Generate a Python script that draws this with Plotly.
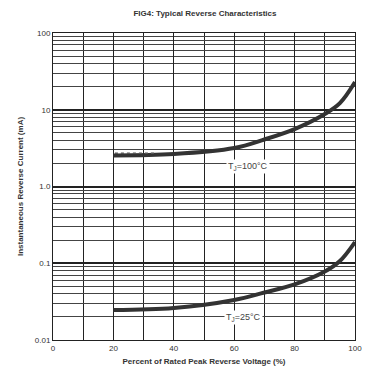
import plotly.graph_objects as go

# Data
voltage_pct = [20, 40, 60, 70, 80, 90, 95, 100]
current_100c = [2.54, 2.65, 3.17, 4.1, 5.6, 8.8, 12.2, 23.0]
current_25c = [0.0246, 0.0261, 0.0332, 0.0415, 0.053, 0.078, 0.107, 0.189]
dotted_x = [20.5, 34]
dotted_y = [2.72, 2.72]

x_tickvals = [0, 20, 40, 60, 80, 100]
x_ticktext = ["0", "20", "40", "60", "80", "100"]
y_tickvals = [0.01, 0.1, 1, 10, 100]
y_ticktext = ["0.01", "0.1", "1.0", "10", "100"]

fig = go.Figure()
fig.add_trace(go.Scatter(x=voltage_pct, y=current_100c, mode="lines",
                         line=dict(color="#333", width=4, shape="spline", smoothing=1.0),
                         showlegend=False))
fig.add_trace(go.Scatter(x=voltage_pct, y=current_25c, mode="lines",
                         line=dict(color="#333", width=4, shape="spline", smoothing=1.0),
                         showlegend=False))
fig.add_trace(go.Scatter(x=dotted_x, y=dotted_y, mode="lines",
                         line=dict(color="#555", width=1.5, dash="dot"),
                         showlegend=False))

fig.add_annotation(x=64.5, y=0.255, xref="x", yref="y", text="T<sub>J</sub>=100°C",
                   showarrow=False, font=dict(size=9, color="#444", family="Arial"),
                   bgcolor="white")
fig.add_annotation(x=63, y=-1.71, xref="x", yref="y", text="T<sub>J</sub>=25°C",
                   showarrow=False, font=dict(size=9, color="#444", family="Arial"),
                   bgcolor="white")

fig.update_layout(
    width=366, height=379,
    margin=dict(l=53, r=4, t=33, b=39),
    paper_bgcolor="white", plot_bgcolor="white",
    title=dict(text="<b>FIG4: Typical Reverse Characteristics</b>", x=0.56, xanchor="center",
               y=0.965, yanchor="middle", font=dict(size=8, color="#333", family="Arial")),
    font=dict(family="Arial", size=8, color="#333"),
)
fig.update_xaxes(range=[0, 100], tickvals=x_tickvals, ticktext=x_ticktext,
                 showgrid=True, gridcolor="#222", gridwidth=1,
                 minor=dict(showgrid=True, gridcolor="#222", gridwidth=1, dtick=10, tick0=0),
                 showline=True, linecolor="#222", linewidth=1, mirror=True,
                 ticks="", zeroline=False, ticklabeloverflow="allow",
                 tickfont=dict(size=8, color="#333", family="Arial"),
                 title=dict(text="<b>Percent of Rated Peak Reverse Voltage (%)</b>",
                            font=dict(size=8, color="#333"), standoff=6))
fig.update_yaxes(type="log", range=[-2, 2], tickvals=y_tickvals, ticktext=y_ticktext,
                 showgrid=True, gridcolor="#222", gridwidth=1.5,
                 minor=dict(showgrid=True, gridcolor="#444", gridwidth=1, dtick="D1"),
                 showline=True, linecolor="#222", linewidth=1, mirror=True,
                 ticks="", zeroline=False, ticklabeloverflow="allow",
                 tickfont=dict(size=8, color="#333"),
                 title=dict(text="<b>Instantaneous Reverse Current (mA)</b>",
                            font=dict(size=8, color="#333"), standoff=10))

fig.write_html("out.html", config={"displayModeBar": False},
               post_script="document.body.style.margin='0';document.body.style.overflow='hidden';")
